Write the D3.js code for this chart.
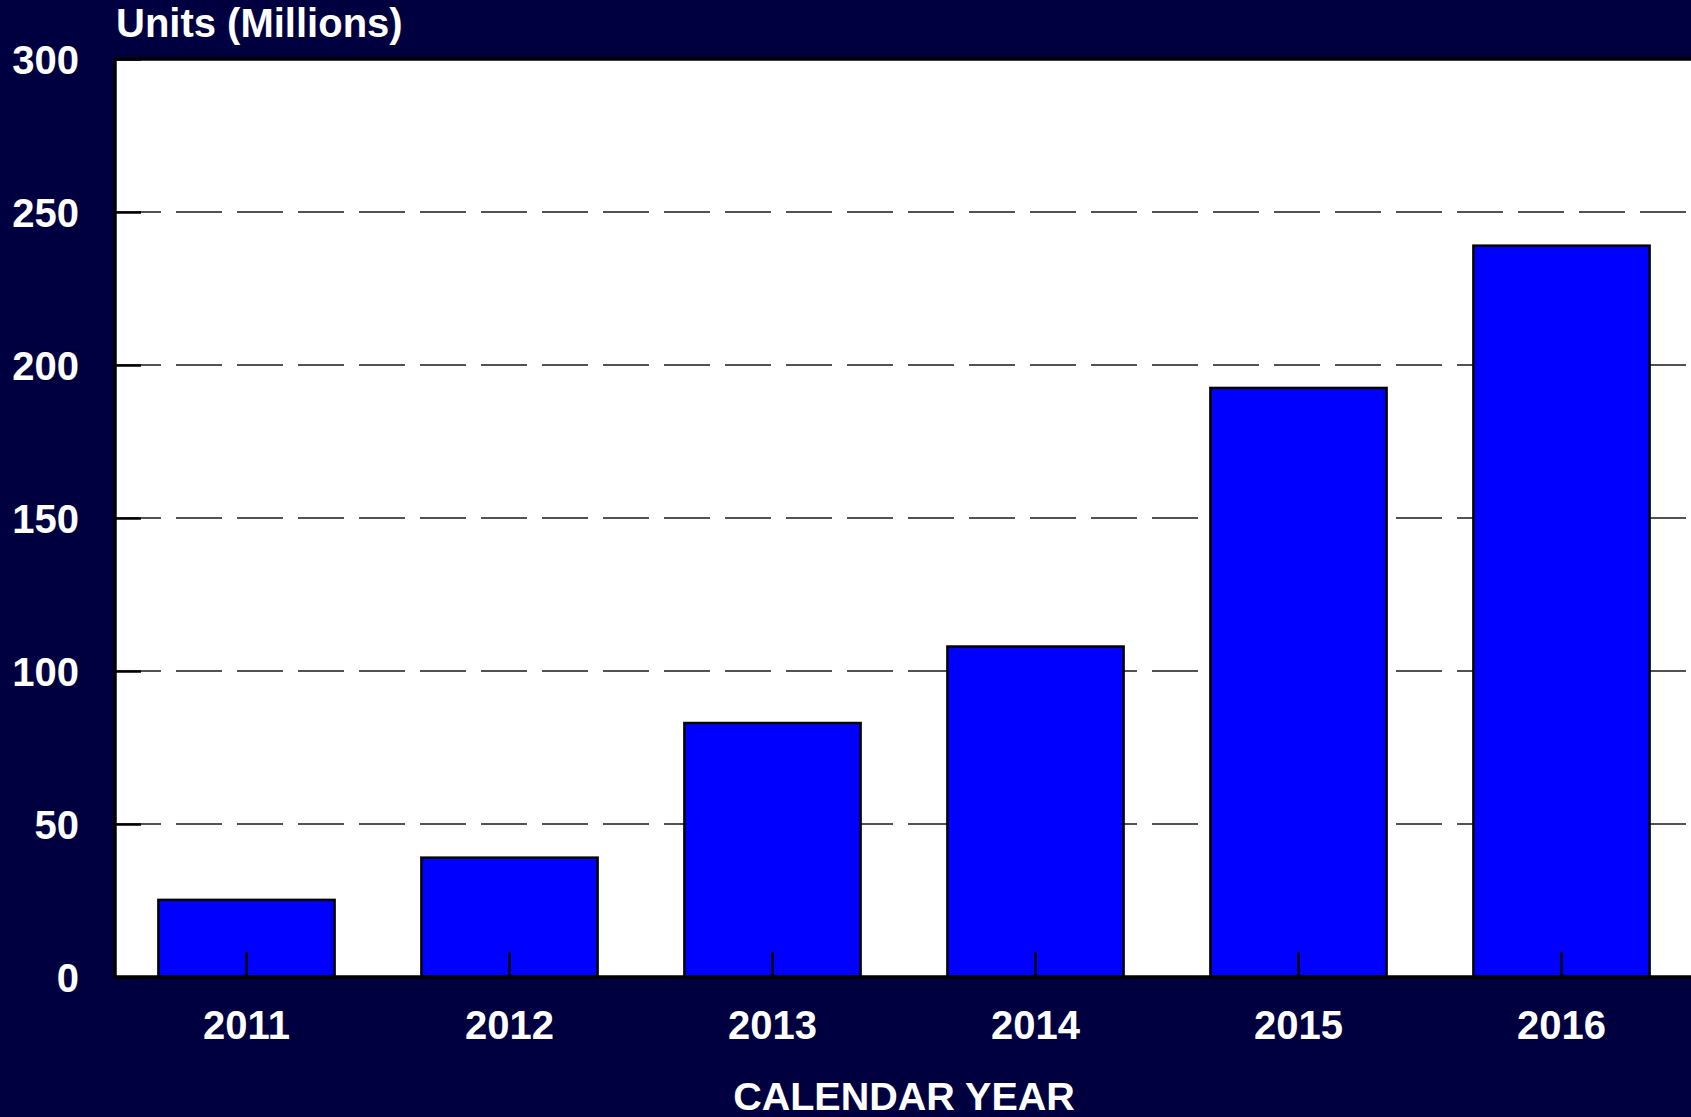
<!DOCTYPE html>
<html>
<head>
<meta charset="utf-8">
<script src="https://cdn.jsdelivr.net/npm/d3@7"></script>
<style>
  html, body { margin: 0; padding: 0; background: #000040; overflow: hidden; }
  svg { display: block; }
  text { font-family: "Liberation Sans", Arial, Helvetica, sans-serif; font-weight: bold; fill: #ffffff; }
</style>
</head>
<body>
<svg id="chart" width="1691" height="1117"></svg>
<script>
// Annual shipments, millions of units
const years = ["2011", "2012", "2013", "2014", "2015", "2016"];
const units = [25.2, 39, 83, 108, 192.5, 239];
const yTicks = [0, 50, 100, 150, 200, 250, 300];
const yTitle = "Units (Millions)";
const xTitle = "CALENDAR YEAR";

const svg = d3.select("#chart");
const W = 1691, H = 1117;
const m = { left: 115, top: 59, bottom: 977, right: 1693 };

svg.append("rect").attr("width", W).attr("height", H).attr("fill", "#000040");

const x = d3.scaleBand()
  .domain(years)
  .range([m.left, m.right])
  .paddingInner(0.33)
  .paddingOuter(0.165);

const y = d3.scaleLinear().domain([0, 300]).range([m.bottom, m.top]);

// plotting area
svg.append("rect")
  .attr("x", m.left).attr("y", m.top)
  .attr("width", m.right - m.left).attr("height", m.bottom - m.top)
  .attr("fill", "#ffffff");

// dashed horizontal grid
svg.append("g").selectAll("line")
  .data(yTicks.filter(v => v > 0 && v < 300))
  .join("line")
  .attr("x1", m.left).attr("x2", m.right)
  .attr("y1", d => y(d)).attr("y2", d => y(d))
  .attr("stroke", "#1a1a1a").attr("stroke-width", 1.3)
  .attr("stroke-dasharray", "46,15");

// bars
svg.append("g").selectAll("rect")
  .data(years.map((yr, i) => ({ yr, v: units[i] })))
  .join("rect")
  .attr("x", d => x(d.yr))
  .attr("y", d => y(d.v))
  .attr("width", x.bandwidth())
  .attr("height", d => y(0) - y(d.v))
  .attr("fill", "#0000ff")
  .attr("stroke", "#000000")
  .attr("stroke-width", 2.5);

// left axis: inward ticks, labels outside
const yAxis = d3.axisLeft(y).tickValues(yTicks).tickSize(-26).tickPadding(36);
const gy = svg.append("g").attr("transform", `translate(${m.left},0)`).call(yAxis);
gy.select(".domain").remove();
gy.selectAll(".tick line").attr("stroke", "#000").attr("stroke-width", 2.5);
gy.selectAll(".tick text")
  .attr("font-size", "40px")
  .attr("fill", "#ffffff")
  .attr("font-family", '"Liberation Sans", Arial, sans-serif')
  .attr("font-weight", "bold")
  .attr("dy", "0.36em");

// bottom axis: inward ticks at category centres
const xAxis = d3.axisBottom(x).tickSize(-25).tickPadding(34);
const gx = svg.append("g").attr("transform", `translate(0,${m.bottom})`).call(xAxis);
gx.select(".domain").remove();
gx.selectAll(".tick line").attr("stroke", "#000").attr("stroke-width", 2.5);
gx.selectAll(".tick text")
  .attr("font-size", "40px")
  .attr("fill", "#ffffff")
  .attr("font-family", '"Liberation Sans", Arial, sans-serif')
  .attr("font-weight", "bold")
  .attr("dy", "0.71em");

// frame lines: left, top and baseline
svg.append("line").attr("x1", m.left).attr("x2", m.left).attr("y1", m.top).attr("y2", m.bottom + 1.5)
  .attr("stroke", "#000").attr("stroke-width", 3.5);
svg.append("line").attr("x1", m.left).attr("x2", m.right).attr("y1", m.top).attr("y2", m.top)
  .attr("stroke", "#000").attr("stroke-width", 3.5);
svg.append("line").attr("x1", m.left).attr("x2", m.right).attr("y1", m.bottom).attr("y2", m.bottom)
  .attr("stroke", "#000").attr("stroke-width", 3.5);

// titles
svg.append("text")
  .attr("x", 116).attr("y", 37)
  .attr("font-size", "40px")
  .text(yTitle);

svg.append("text")
  .attr("x", (m.left + m.right) / 2).attr("y", 1110)
  .attr("text-anchor", "middle")
  .attr("font-size", "39.5px")
  .text(xTitle);
</script>
</body>
</html>
